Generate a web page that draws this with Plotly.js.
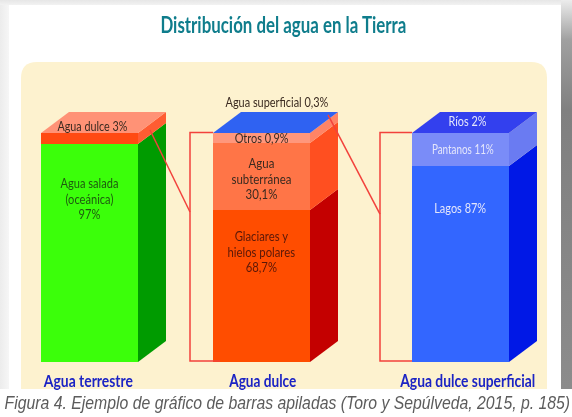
<!DOCTYPE html>
<html><head><meta charset="utf-8">
<script src="https://cdn.plot.ly/plotly-3.0.0.min.js"></script>
<style>
html,body{margin:0;padding:0;width:572px;height:417px;overflow:hidden;background:#fff}
#bg{position:absolute;left:0;top:0;width:572px;height:417px;background:
 linear-gradient(#fff,#fff) 0 389px/572px 28px no-repeat,
 linear-gradient(#fff,#fff) 9px 5px/552px 384px no-repeat,
 linear-gradient(#ececec,#a0a0a0 40px,#808080 110px,#8c8c8c 389px) 561px 0/11px 389px no-repeat,
 linear-gradient(#e6e6e6,#f2f2f2) 0 0/561px 5px no-repeat,
 linear-gradient(90deg,#ececec,#f6f6f6) 0 0/9px 389px no-repeat}
#chart{position:absolute;left:0;top:0;width:572px;height:417px;filter:blur(0.45px)}
</style></head><body><div id="bg"></div><div id="chart"></div>
<script>
const W=572,H=417;
const TEXT_FONT='Lato,"Liberation Sans",sans-serif';

// Categories (columns)
const categories=['Agua terrestre','Agua dulce','Agua dulce superficial'];
const barCenters=[89.5,261.5,460.5];
const barWidth=97;

// Drawn height (share of the column's front face)
const terrestre=[95.2,4.8];
const dulce=[66.4,29.2,4.4];
const superficial=[85.6,14.4];

// Text of the segments
const terrestreLabels=['Agua salada<br>(oceánica)<br>97%','Agua dulce 3%'];
const dulceLabels=['Glaciares y<br>hielos polares<br>68,7%','Agua<br>subterránea<br>30,1%','Otros 0,9%','Agua superficial 0,3%'];
const superficialLabels=['Lagos 87%','Pantanos 11%','Ríos 2%'];

// Colours: front, side per segment, then the top face
const terrestreFront=['#3bff0a','#ff4a12'];
const terrestreSide=['#009b00','#ff5c32'];
const terrestreTop='#ff9276';
const dulceFront=['#ff4d00','#ff7547','#ff977c'];
const dulceSide=['#c40000','#ff4f20','#ff8466'];
const dulceTop='#2f62f2';
const superficialFront=['#3366ff','#7a8cf8'];
const superficialSide=['#0018e6','#6a7bf2'];
const superficialTop='#3340ee';

// y axis: 0 at the foot of the columns, 100 at their top
const pxPerUnit=2.29, baseline=362;
const yRange=[(baseline-H)/pxPerUnit,baseline/pxPerUnit];
const depthX=28, depthY=21/pxPerUnit;

const columns=[
 {vals:terrestre,front:terrestreFront,side:terrestreSide,top:terrestreTop},
 {vals:dulce,front:dulceFront,side:dulceSide,top:dulceTop},
 {vals:superficial,front:superficialFront,side:superficialSide,top:superficialTop}];

const traces=[];
columns.forEach((c,i)=>{
  let base=0;
  const right=barCenters[i]+barWidth/2,left=barCenters[i]-barWidth/2;
  c.vals.forEach((v,j)=>{
    traces.push({type:'bar',x:[barCenters[i]],y:[v],base:[base],width:[barWidth],
      marker:{color:c.front[j],line:{width:0}},hoverinfo:'skip',showlegend:false});
    traces.push({type:'scatter',mode:'lines',fill:'toself',fillcolor:c.side[j],line:{width:0},
      x:[right,right+depthX,right+depthX,right,right],
      y:[base,base+depthY,base+v+depthY,base+v,base],hoverinfo:'skip',showlegend:false});
    base+=v;
  });
  traces.push({type:'scatter',mode:'lines',fill:'toself',fillcolor:c.top,line:{width:0},
    x:[left,left+depthX,right+depthX,right,left],
    y:[base,base+depthY,base+depthY,base,base],hoverinfo:'skip',showlegend:false});
});

// Red connectors, built from the column edges
const connector='#f2423c';
function bracket(fromCol,toCol,fromX,fromY,bx,footX,meetY){
  const right=barCenters[fromCol]+barWidth/2;
  const left=barCenters[toCol]-barWidth/2;
  const x=left-bx;
  traces.push({type:'scatter',mode:'lines',line:{color:connector,width:1.5},hoverinfo:'skip',showlegend:false,
    x:[right+fromX,x],y:[fromY,meetY]});
  traces.push({type:'scatter',mode:'lines',line:{color:connector,width:1.5},hoverinfo:'skip',showlegend:false,
    x:[left,x,x,left+footX],y:[100.2,100.2,0.4,0.4]});
}
bracket(0,1,12,101.3,23,7,65.5);
bracket(1,2,18,107.9,32,0,64.6);

// Text blocks: one annotation per block; its width is fitted to the condensed look
const annotations=[], targets=[], sizes=[];
function label(text,cx,cy,color,size,bold,target,family,italic){
  const t=text.split('<br>').map(ln=>bold?'<b>'+ln+'</b>':(italic?'<i>'+ln+'</i>':ln)).join('<br>');
  annotations.push({text:t,xref:'paper',yref:'paper',x:cx/W,y:1-cy/H,
    xanchor:'center',yanchor:'middle',showarrow:false,align:'center',
    font:{family:family||TEXT_FONT,size:size,color:color}});
  targets.push(target); sizes.push(size);
}
const dark='#3a2a20', pale='#e4e6fb', one=14, block=12.8;
label(terrestreLabels[1],92.5,125,dark,one,false,70);
label(terrestreLabels[0],89,199,'#1f5a10',block,false,58);
label(dulceLabels[3],277,101,dark,one,false,103);
label(dulceLabels[2],261,138,dark,one,false,54);
label(dulceLabels[1],261,178,dark,block,false,60);
label(dulceLabels[0],261,251,'#5a1808',block,false,68);
label(superficialLabels[2],467,121,pale,one,false,38);
label(superficialLabels[1],463,148,pale,one,false,62);
label(superficialLabels[0],460,207,pale,one,false,52);
label(categories[0],88,380,'#1c24c4',17,true,90);
label(categories[1],262,380,'#1c24c4',17,true,68);
label(categories[2],467,380,'#1c24c4',17,true,136);
label('Distribución del agua en la Tierra',283,25,'#0f7d8c',22,true,246);
label('Figura 4. Ejemplo de gráfico de barras apiladas (Toro y Sepúlveda, 2015, p. 185)',287,403,'#5c5c5c',18,false,566,'"Liberation Sans",sans-serif',true);

const px=(x)=>x/W, py=(y)=>1-y/H;
const L=21,R=547,T=62,B=389,r=16;
const panelPath=`M${px(L)},${py(B)} L${px(L)},${py(T+r)} Q${px(L)},${py(T)} ${px(L+r)},${py(T)} L${px(R-r)},${py(T)} Q${px(R)},${py(T)} ${px(R)},${py(T+r)} L${px(R)},${py(B)} Z`;

const LEADING=15.5;
Plotly.newPlot('chart',traces,{
  width:W,height:H,margin:{l:0,r:0,t:0,b:0},autosize:false,showlegend:false,
  paper_bgcolor:'rgba(0,0,0,0)',plot_bgcolor:'rgba(0,0,0,0)',barmode:'overlay',
  xaxis:{range:[0,W],visible:false,fixedrange:true},
  yaxis:{range:yRange,visible:false,fixedrange:true},
  shapes:[{type:'path',xref:'paper',yref:'paper',path:panelPath,fillcolor:'#fdf2cf',line:{width:0},layer:'below'}],
  annotations:annotations
},{staticPlot:true,displayModeBar:false}).then(gd=>{
  const texts=[...gd.querySelectorAll('.annotation text')];
  texts.forEach((e,i)=>{
    const lines=[...e.querySelectorAll('tspan.line')];
    if(lines.length>1){
      const y0=parseFloat(lines[0].getAttribute('y'));
      // Plotly spaces lines 1.3em with dy; set the block's leading around its middle
      const mid=y0+(lines.length-1)/2*1.3*sizes[i];
      lines.forEach((l,k)=>{
        l.removeAttribute('dy');
        l.setAttribute('y',mid+(k-(lines.length-1)/2)*LEADING);
      });
    }
    const bb=e.getBBox(), cx=bb.x+bb.width/2, s=targets[i]/bb.width;
    e.setAttribute('transform',`translate(${cx} 0) scale(${s} 1) translate(${-cx} 0)`);
  });
});
</script></body></html>
